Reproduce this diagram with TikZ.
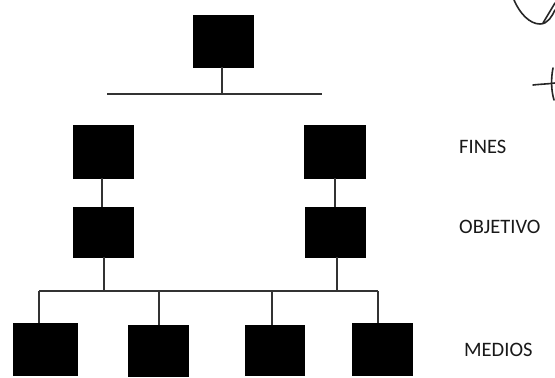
\documentclass[tikz,border=0pt]{standalone}
\usepackage{fontspec}
\setmainfont{Carlito}
\begin{document}
\begin{tikzpicture}[x=1pt,y=-1pt,
  blk/.style={fill=black,draw=black},
  conn/.style={draw=black!80,line width=1.1pt},
  lbl/.style={anchor=west,inner sep=0pt,text=black!90,font=\fontsize{20.5}{24}\selectfont},
  pen/.style={draw=black!85,line width=1.6pt,line cap=round}]
\useasboundingbox[fill=white] (0,0) rectangle (555,378);
% boxes
\path[blk] (193,15) rectangle (253,67);
\path[blk] (73,125) rectangle (133,178);
\path[blk] (304,125) rectangle (365,178);
\path[blk] (73,207) rectangle (133,257);
\path[blk] (305,207) rectangle (365,257);
\path[blk] (13,323) rectangle (77,375);
\path[blk] (128,325) rectangle (188,376);
\path[blk] (245,325) rectangle (304,375);
\path[blk] (352,323) rectangle (412,375);
% named anchor points
\coordinate (top) at (222,67);
\coordinate (t1) at (222,94);
\coordinate (hL) at (107,94);
\coordinate (hR) at (322,94);
\coordinate (f1b) at (102,178);
\coordinate (o1t) at (102,207);
\coordinate (f2b) at (335,178);
\coordinate (o2t) at (335,207);
\coordinate (o1b) at (104,257);
\coordinate (o2b) at (337,257);
\coordinate (b1) at (104,291);
\coordinate (b2) at (337,291);
\coordinate (mL) at (39,291);
\coordinate (mR) at (378,291);
\coordinate (d2) at (159,291);
\coordinate (d3) at (272,291);
\coordinate (m1) at (39,323);
\coordinate (m2) at (159,325);
\coordinate (m3) at (272,325);
\coordinate (m4) at (378,323);
% connectors
\draw[conn] (top) -- (t1);
\draw[conn] (hL) -- (hR);
\draw[conn] (f1b) -- (o1t);
\draw[conn] (f2b) -- (o2t);
\draw[conn] (o1b) -- (b1);
\draw[conn] (o2b) -- (b2);
\draw[conn] (mL) -- (mR);
\draw[conn] (mL) -- (m1);
\draw[conn] (d2) -- (m2);
\draw[conn] (d3) -- (m3);
\draw[conn] (mR) -- (m4);
% labels
\node[lbl] (fines) at (459,147) {FINES};
\node[lbl] (obj) at (459,227) {OBJETIVO};
\node[lbl] (med) at (464,350) {MEDIOS};
% handwritten marks
\draw[pen] (514,0) .. controls (520,14) and (530,24) .. (540,24) .. controls (548,24) and (552,16) .. (555,10);
\draw[pen] (543,23) -- (555,3);
\draw[pen] (533,85) .. controls (542,84) and (548,84) .. (555,83);
\draw[pen] (553,68) .. controls (551,78) and (551,90) .. (554,100);
\end{tikzpicture}
\end{document}
